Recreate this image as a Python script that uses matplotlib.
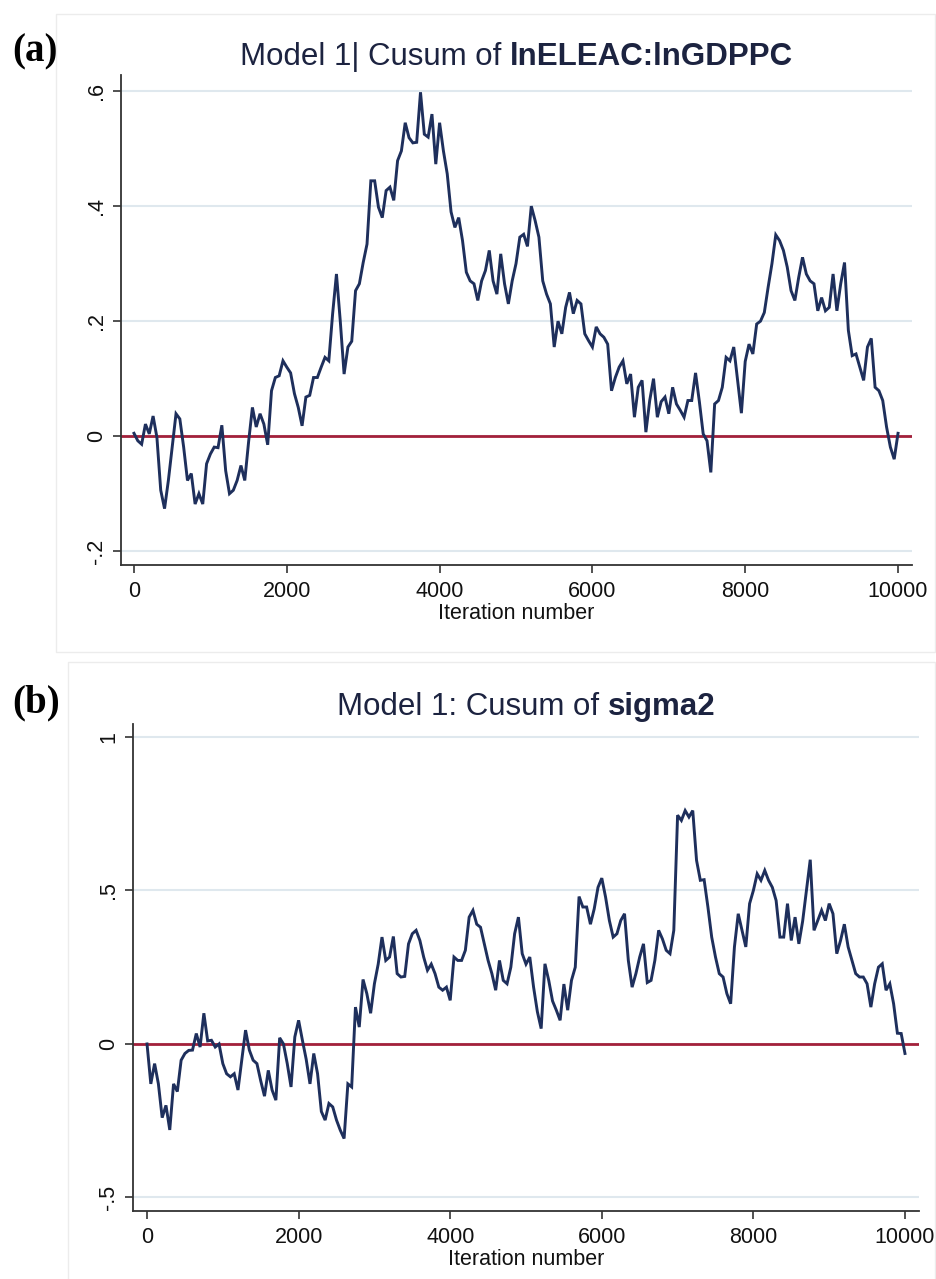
import numpy as np
import matplotlib.pyplot as plt
from matplotlib.patches import Rectangle

# MCMC cusum traces, every 50 iterations
iterations = np.arange(0, 10001, 50)

cusum_a = [
    0.005, -0.008, -0.014, 0.021, 0.004, 0.035, -0.002, -0.094, -0.126, -0.077,
    -0.019, 0.039, 0.03, -0.019, -0.077, -0.065, -0.118, -0.1, -0.118, -0.048,
    -0.031, -0.019, -0.02, 0.019, -0.06, -0.1, -0.094, -0.077, -0.051, -0.077,
    -0.01, 0.05, 0.016, 0.039, 0.021, -0.015, 0.079, 0.102, 0.105, 0.131,
    0.12, 0.11, 0.074, 0.05, 0.018, 0.068, 0.071, 0.102, 0.102, 0.12,
    0.137, 0.131, 0.213, 0.282, 0.2, 0.108, 0.155, 0.165, 0.253, 0.265,
    0.302, 0.334, 0.444, 0.444, 0.398, 0.38, 0.427, 0.433, 0.41, 0.479,
    0.496, 0.545, 0.519, 0.51, 0.511, 0.598, 0.525, 0.52, 0.56, 0.473,
    0.545, 0.496, 0.456, 0.39, 0.363, 0.38, 0.34, 0.285, 0.27, 0.265,
    0.236, 0.27, 0.288, 0.323, 0.27, 0.247, 0.317, 0.265, 0.23, 0.27,
    0.3, 0.346, 0.351, 0.33, 0.4, 0.375, 0.346, 0.27, 0.247, 0.23,
    0.155, 0.2, 0.178, 0.224, 0.25, 0.213, 0.236, 0.23, 0.178, 0.166,
    0.155, 0.19, 0.178, 0.172, 0.16, 0.079, 0.102, 0.12, 0.131, 0.091,
    0.108, 0.033, 0.085, 0.097, 0.007, 0.062, 0.1, 0.033, 0.06, 0.068,
    0.039, 0.085, 0.056, 0.045, 0.033, 0.062, 0.062, 0.11, 0.06, 0.004,
    -0.008, -0.063, 0.056, 0.062, 0.085, 0.137, 0.131, 0.155, 0.097, 0.04,
    0.13, 0.16, 0.143, 0.195, 0.2, 0.215, 0.259, 0.3, 0.35, 0.34,
    0.323, 0.294, 0.253, 0.236, 0.276, 0.311, 0.282, 0.27, 0.265, 0.218,
    0.241, 0.218, 0.224, 0.282, 0.218, 0.265, 0.302, 0.184, 0.14, 0.143,
    0.12, 0.097, 0.155, 0.17, 0.085, 0.079, 0.062, 0.016, -0.019, -0.04,
    0.005,
]

cusum_b = [
    0.0, -0.13, -0.064, -0.13, -0.24, -0.2, -0.28, -0.13, -0.155, -0.053,
    -0.031, -0.021, -0.02, 0.034, -0.01, 0.1, 0.01, 0.012, -0.01, 0.0,
    -0.064, -0.097, -0.107, -0.097, -0.15, -0.053, 0.045, -0.02, -0.053, -0.064,
    -0.12, -0.17, -0.086, -0.15, -0.183, 0.02, 0.0, -0.064, -0.14, 0.023,
    0.077, 0.012, -0.05, -0.13, -0.031, -0.097, -0.22, -0.248, -0.194, -0.205,
    -0.248, -0.281, -0.308, -0.13, -0.14, 0.12, 0.055, 0.21, 0.164, 0.1,
    0.196, 0.26, 0.348, 0.272, 0.283, 0.35, 0.229, 0.218, 0.22, 0.326,
    0.359, 0.37, 0.337, 0.283, 0.24, 0.26, 0.229, 0.185, 0.175, 0.185,
    0.142, 0.283, 0.272, 0.272, 0.305, 0.413, 0.435, 0.39, 0.38, 0.326,
    0.272, 0.229, 0.175, 0.272, 0.207, 0.196, 0.25, 0.359, 0.413, 0.294,
    0.26, 0.283, 0.185, 0.105, 0.05, 0.261, 0.207, 0.14, 0.11, 0.077,
    0.195, 0.11, 0.207, 0.25, 0.48, 0.446, 0.446, 0.39, 0.44, 0.51,
    0.54, 0.478, 0.402, 0.348, 0.359, 0.402, 0.424, 0.272, 0.185, 0.229,
    0.283, 0.326, 0.2, 0.207, 0.272, 0.37, 0.342, 0.305, 0.294, 0.37,
    0.745, 0.728, 0.76, 0.739, 0.76, 0.598, 0.533, 0.535, 0.446, 0.348,
    0.283, 0.229, 0.218, 0.164, 0.131, 0.316, 0.424, 0.37, 0.316, 0.457,
    0.5, 0.554, 0.533, 0.565, 0.533, 0.51, 0.467, 0.348, 0.348, 0.457,
    0.337, 0.413, 0.326, 0.4, 0.5, 0.6, 0.37, 0.402, 0.435, 0.402,
    0.457, 0.424, 0.294, 0.337, 0.39, 0.316, 0.272, 0.229, 0.218, 0.218,
    0.196, 0.12, 0.196, 0.25, 0.261, 0.175, 0.196, 0.131, 0.035, 0.034,
    -0.031,
]

xticks = [0, 2000, 4000, 6000, 8000, 10000]
yticks_a = [-0.2, 0, 0.2, 0.4, 0.6]
ylabels_a = ['-.2', '0', '.2', '.4', '.6']
yticks_b = [-0.5, 0, 0.5, 1]
ylabels_b = ['-.5', '0', '.5', '1']

navy = '#1e2f5c'
maroon = '#a3203a'
grid_col = '#dfe8ee'
title_col = '#1c2340'
fs_tick = 15.5
fs_title = 22.5

plt.rcParams['font.family'] = ['Liberation Sans', 'DejaVu Sans']

W, H = 937, 1279
fig = plt.figure(figsize=(W / 100, H / 100), dpi=100)

# light frames around each sub-figure
fig.patches.append(Rectangle((56 / W, 1 - 652 / H), 879 / W, 638 / H, transform=fig.transFigure,
                             fill=False, edgecolor='#ececec', lw=1))
fig.patches.append(Rectangle((68 / W, 1 - 1285 / H), 867 / W, 623 / H, transform=fig.transFigure,
                             fill=False, edgecolor='#ececec', lw=1))


def add_panel(left, top, right, bottom, y, yticks, ylabels, ylim, xlim):
    ax = fig.add_axes([left / W, 1 - bottom / H, (right - left) / W, (bottom - top) / H])
    ax.plot(iterations, y, color=navy, lw=2.1, zorder=3, solid_joinstyle='miter')
    ax.axhline(0, color=maroon, lw=2, zorder=2)
    ax.set_xlim(*xlim)
    ax.set_ylim(*ylim)
    ax.set_xticks(xticks)
    ax.set_xticklabels([str(t) for t in xticks])
    ax.set_yticks(yticks)
    ax.set_yticklabels(ylabels, rotation=90, va='center')
    ax.yaxis.grid(True, color=grid_col, lw=1.5)
    ax.set_axisbelow(True)
    for s in ['top', 'right']:
        ax.spines[s].set_visible(False)
    for s in ['left', 'bottom']:
        ax.spines[s].set_color('#333333')
        ax.spines[s].set_linewidth(1.3)
    ax.tick_params(axis='both', direction='out', length=6, width=1.2, color='#333333',
                   labelsize=fs_tick, labelcolor='#111111')
    ax.tick_params(axis='x', pad=5.5)
    ax.tick_params(axis='y', pad=4)
    ax.set_xlabel('Iteration number', fontsize=fs_tick, color='#111111', labelpad=1)
    return ax


def cusum_title(ax, plain, bold, base_y):
    r = fig.canvas.get_renderer()
    yf = 1 - base_y / H
    t1 = fig.text(0, yf, plain, fontsize=fs_title, color=title_col, va='baseline')
    t2 = fig.text(0, yf, bold, fontsize=fs_title, fontweight='bold', color=title_col, va='baseline')
    w1 = t1.get_window_extent(r).width
    w2 = t2.get_window_extent(r).width
    gap = 0.278 * fs_title * 100 / 72
    pos = ax.get_position()
    cx = (pos.x0 + pos.x1) / 2 * W
    x0 = cx - (w1 + gap + w2) / 2
    t1.set_x(x0 / W)
    t2.set_x((x0 + w1 + gap) / W)


ax_a = add_panel(121, 75, 912, 565, cusum_a, yticks_a, ylabels_a, (-0.224, 0.628), (-170, 10183))
ax_b = add_panel(133, 724, 919, 1211, cusum_b, yticks_b, ylabels_b, (-0.544, 1.042), (-185, 10185))

cusum_title(ax_a, 'Model 1| Cusum of', 'lnELEAC:lnGDPPC', 65)
cusum_title(ax_b, 'Model 1: Cusum of', 'sigma2', 715)

fig.text(12 / W, 1 - 61 / H, '(a)', family=['Liberation Serif', 'DejaVu Serif'], fontweight='bold',
         fontsize=28, va='baseline')
fig.text(12 / W, 1 - 712 / H, '(b)', family=['Liberation Serif', 'DejaVu Serif'], fontweight='bold',
         fontsize=28, va='baseline')

fig.savefig('out.png', dpi=100)
